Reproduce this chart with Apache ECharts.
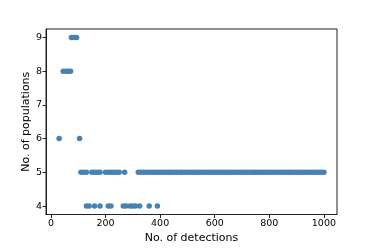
<!DOCTYPE html>
<html>
<head>
<meta charset="utf-8">
<script src="https://cdn.jsdelivr.net/npm/echarts@6/dist/echarts.min.js"></script>
<style>html,body{margin:0;padding:0;background:#fff;}#c{width:374px;height:249px;}</style>
</head>
<body>
<div id="c"></div>
<script>
// Data
var detections = [
  30, 45, 55, 63, 72, 75, 85, 94, 105,
  110, 120, 130, 150, 160, 170, 180, 200, 210, 220, 230, 240, 250, 270,
  320, 330, 340, 350, 360, 370, 380, 390, 400, 410, 420, 430, 440, 450, 460, 470, 480, 490,
  500, 510, 520, 530, 540, 550, 560, 570, 580, 590, 600, 610, 620, 630, 640, 650, 660, 670, 680, 690,
  700, 710, 720, 730, 740, 750, 760, 770, 780, 790, 800, 810, 820, 830, 840, 850, 860, 870, 880, 890,
  900, 910, 920, 930, 940, 950, 960, 970, 980, 990, 1000,
  130, 140, 160, 180, 210, 220, 265, 275, 290, 300, 310, 325, 360, 390
];
var populations = [
  6, 8, 8, 8, 8, 9, 9, 9, 6,
  5, 5, 5, 5, 5, 5, 5, 5, 5, 5, 5, 5, 5, 5,
  5, 5, 5, 5, 5, 5, 5, 5, 5, 5, 5, 5, 5, 5, 5, 5, 5, 5,
  5, 5, 5, 5, 5, 5, 5, 5, 5, 5, 5, 5, 5, 5, 5, 5, 5, 5, 5, 5,
  5, 5, 5, 5, 5, 5, 5, 5, 5, 5, 5, 5, 5, 5, 5, 5, 5, 5, 5, 5,
  5, 5, 5, 5, 5, 5, 5, 5, 5, 5, 5,
  4, 4, 4, 4, 4, 4, 4, 4, 4, 4, 4, 4, 4, 4
];
var xTicks = [0, 200, 400, 600, 800, 1000];
var yTicks = [4, 5, 6, 7, 8, 9];

var points = detections.map(function (d, i) { return [d, populations[i]]; });

var chart = echarts.init(document.getElementById('c'), null, {renderer: 'canvas'});
var font = 'DejaVu Sans';
chart.setOption({
  animation: false,
  backgroundColor: '#ffffff',
  grid: {left: 46, top: 29, width: 291, height: 188, show: true, borderColor: '#222', borderWidth: 1, backgroundColor: 'transparent'},
  xAxis: {
    type: 'value', min: -18, max: 1048,
    name: 'No. of detections', nameLocation: 'middle', nameGap: 18.5, nameMoveOverlap: false,
    nameTextStyle: {fontFamily: font, fontSize: 11, color: '#000'},
    axisLine: {show: true, onZero: false, lineStyle: {color: '#222', width: 1}},
    axisTick: {show: true, length: 3.5, customValues: xTicks, lineStyle: {color: '#222'}},
    axisLabel: {customValues: xTicks, formatter: function (v) { return String(v); }, fontFamily: font, fontSize: 9.5, color: '#000', margin: 4},
    splitLine: {show: false}
  },
  yAxis: {
    type: 'value', min: 3.75, max: 9.25,
    name: 'No. of populations', nameLocation: 'middle', nameGap: 14, nameRotate: 90, nameMoveOverlap: false,
    nameTextStyle: {fontFamily: font, fontSize: 11, color: '#000'},
    axisLine: {show: true, onZero: false, lineStyle: {color: '#222', width: 1}},
    axisTick: {show: true, length: 3.5, customValues: yTicks, lineStyle: {color: '#222'}},
    axisLabel: {customValues: yTicks, fontFamily: font, fontSize: 9.5, color: '#000', margin: 4},
    splitLine: {show: false}
  },
  series: [{
    type: 'scatter',
    data: points,
    symbol: 'circle',
    symbolSize: 5.5,
    itemStyle: {color: '#4682b4', opacity: 1}
  }]
});
</script>
</body>
</html>
